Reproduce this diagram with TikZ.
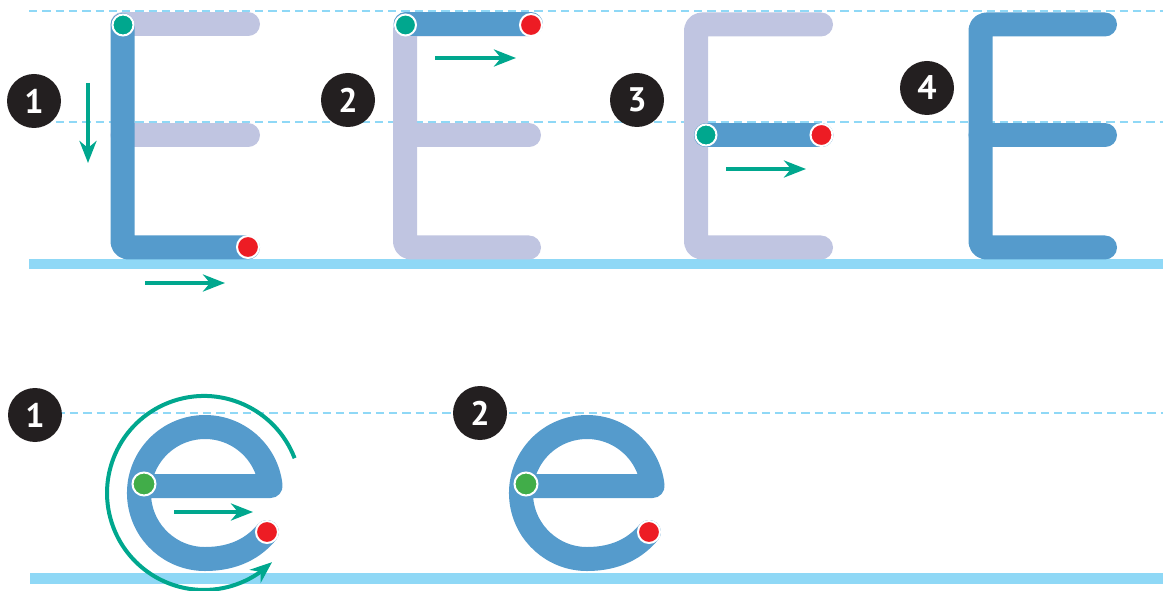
\documentclass[tikz,border=0pt]{standalone}
\usepackage{fontspec}
\setmainfont{PT Sans}
\usetikzlibrary{arrows.meta,bending}
\definecolor{eblue}{RGB}{85,155,204}
\definecolor{elav}{RGB}{192,197,225}
\definecolor{eteal}{RGB}{0,167,142}
\definecolor{ered}{RGB}{237,28,36}
\definecolor{egreen}{RGB}{65,173,73}
\definecolor{edark}{RGB}{35,31,32}
\definecolor{eline}{RGB}{143,216,246}
\tikzset{
  guide/.style={eline, line width=2.8pt, dash pattern=on 8.3pt off 5pt},
  groundline/.style={eline, line width=10.5pt},
  strokeblue/.style={eblue, line width=24pt, line cap=round, line join=round, rounded corners=6pt},
  strokelav/.style={elav, line width=24pt, line cap=round, line join=round, rounded corners=6pt},
  ringstroke/.style={eblue, line width=24pt, line cap=round, line join=round},
  dirarrow/.style={eteal, line width=4.5pt, -{Stealth[length=22pt,width=17pt,inset=7pt]}},
  startdot/.style={circle, fill=eteal, draw=white, line width=2pt, minimum size=21pt, inner sep=0pt},
  greendot/.style={circle, fill=egreen, draw=white, line width=2pt, minimum size=23pt, inner sep=0pt},
  enddot/.style={circle, fill=ered, draw=white, line width=2pt, minimum size=22pt, inner sep=0pt},
  numbadge/.style={circle, fill=edark, minimum size=54pt, inner sep=0pt, text=white, font=\fontsize{34}{34}\selectfont\bfseries},
}
\begin{document}
\begin{tikzpicture}[x=1pt,y=1pt]
\useasboundingbox (0,0) rectangle (1163,590);
% ---------- guide lines ----------
\draw[guide] (29,579) -- (1163,579);
\draw[guide] (29,468) -- (1163,468);
\draw[groundline] (29,326) -- (1163,326);
\draw[guide] (30,177) -- (1163,177);
\draw[groundline] (30,11.5) -- (1163,11.5);

% ---------- E step 1 ----------
\draw[strokelav] (122.5,565.5) -- (248,565.5);
\draw[strokelav] (122.5,454.5) -- (248,454.5);
\draw[strokeblue] (122.5,565) -- (122.5,342.5) -- (248,342.5);
\node[startdot] (g1) at (123,565) {};
\node[enddot] (r1) at (248,343) {};
\coordinate (a1s) at (88,507);
\coordinate (a1e) at (88,427);
\draw[dirarrow] (a1s) -- (a1e);
\coordinate (a2s) at (145,307);
\coordinate (a2e) at (225,307);
\draw[dirarrow] (a2s) -- (a2e);
\node[numbadge] (n1) at (34,489) {1};

% ---------- E step 2 ----------
\draw[strokelav] (529,565.5) -- (405,565.5) -- (405,342.5) -- (529,342.5);
\draw[strokelav] (405,454.5) -- (529,454.5);
\draw[strokeblue] (405.5,565.5) -- (531,565.5);
\node[startdot] (g2) at (405.5,565) {};
\node[enddot] (r2) at (531,565) {};
\coordinate (b1s) at (435,532);
\coordinate (b1e) at (516,532);
\draw[dirarrow] (b1s) -- (b1e);
\node[numbadge] (n2) at (348,490) {2};

% ---------- E step 3 ----------
\draw[strokelav] (821,565.5) -- (696,565.5) -- (696,342.5) -- (821,342.5);
\draw[strokeblue] (706,454.5) -- (821.5,454.5);
\node[startdot] (g3) at (706,455) {};
\node[enddot] (r3) at (821.5,455) {};
\coordinate (c1s) at (726,421);
\coordinate (c1e) at (806,421);
\draw[dirarrow] (c1s) -- (c1e);
\node[numbadge] (n3) at (637,490) {3};

% ---------- E step 4 ----------
\draw[strokeblue] (1105,565.5) -- (980.5,565.5) -- (980.5,342.5) -- (1105,342.5);
\draw[strokeblue] (980.5,454.5) -- (1105,454.5);
\node[numbadge] (n4) at (927,502) {4};

% ---------- e step 1 ----------
\draw[eteal, line width=4pt, -{Stealth[length=22pt,width=17pt,inset=7pt]}]
  (294.6,131.8) arc[start angle=21, end angle=314.5, radius=97];
\draw[ringstroke] (144,104) -- (270.6,104) arc[start angle=6.1, end angle=270, radius=66]
  .. controls (235,31) and (254.2,42.6) .. (267,58);
\node[greendot] (eg1) at (144,106) {};
\node[enddot] (er1) at (267,58) {};
\coordinate (d1s) at (174,78);
\coordinate (d1e) at (253,78);
\draw[dirarrow] (d1s) -- (d1e);
\node[numbadge] (m1) at (35,175) {1};

% ---------- e step 2 ----------
\begin{scope}[xshift=382pt]
\draw[ringstroke] (144,104) -- (270.6,104) arc[start angle=6.1, end angle=270, radius=66]
  .. controls (235,31) and (254.2,42.6) .. (267,58);
\end{scope}
\node[greendot] (eg2) at (526,106) {};
\node[enddot] (er2) at (649,58) {};
\node[numbadge] (m2) at (480,177) {2};
\end{tikzpicture}
\end{document}
